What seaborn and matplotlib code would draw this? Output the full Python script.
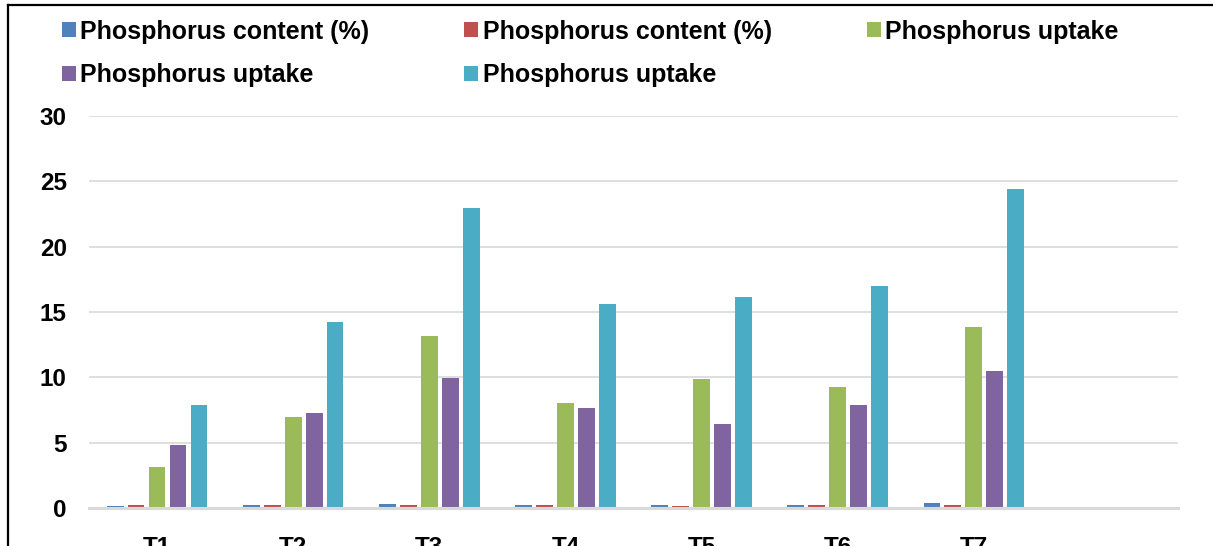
import matplotlib
matplotlib.use('Agg')
import matplotlib.pyplot as plt
from matplotlib.lines import Line2D
import pandas as pd
import seaborn as sns

# Data
treatments = ['T1', 'T2', 'T3', 'T4', 'T5', 'T6', 'T7']
series_labels = ['Phosphorus content (%)', 'Phosphorus content (%)',
                 'Phosphorus uptake', 'Phosphorus uptake', 'Phosphorus uptake']
p_content_a = [0.12, 0.2, 0.3, 0.25, 0.25, 0.25, 0.35]
p_content_b = [0.2, 0.2, 0.2, 0.2, 0.15, 0.2, 0.2]
p_uptake_a = [3.15, 7.0, 13.15, 8.05, 9.85, 9.25, 13.85]
p_uptake_b = [4.8, 7.25, 9.95, 7.65, 6.45, 7.9, 10.5]
p_uptake_c = [7.85, 14.2, 22.95, 15.6, 16.15, 17.0, 24.4]
colors = ['#4F81BD', '#C0504D', '#9BBB59', '#8064A2', '#4BACC6']


def build_frame():
    keys = ['s1', 's2', 's3', 's4', 's5']
    values = [p_content_a, p_content_b, p_uptake_a, p_uptake_b, p_uptake_c]
    rows = []
    for key, vals in zip(keys, values):
        for t, v in zip(treatments, vals):
            rows.append({'Treatment': t, 'Series': key, 'Value': v})
    return pd.DataFrame(rows), keys


def main():
    plt.rcParams['font.family'] = ['Liberation Sans', 'DejaVu Sans']
    plt.rcParams['font.weight'] = 'bold'

    df, keys = build_frame()

    fig = plt.figure(figsize=(12.13, 5.46), dpi=100)
    ax = fig.add_axes([89 / 1213, 38 / 546, 1089 / 1213, 392 / 546])

    sns.barplot(data=df, x='Treatment', y='Value', hue='Series',
                order=treatments + [''], hue_order=keys,
                palette=colors, width=0.77, gap=0.2, ax=ax,
                errorbar=None, saturation=1)

    handles, _ = ax.get_legend_handles_labels()
    ax.get_legend().remove()

    ax.set_ylim(0, 30)
    ax.set_yticks(range(0, 31, 5))
    ax.set_xlabel('')
    ax.set_ylabel('')
    ax.set_axisbelow(True)
    ax.yaxis.grid(True, color='#D9D9D9', linewidth=1.2)
    ax.xaxis.grid(False)
    for s in ['top', 'right', 'left']:
        ax.spines[s].set_visible(False)
    ax.spines['bottom'].set_color('#D9D9D9')
    ax.spines['bottom'].set_linewidth(2.2)
    ax.tick_params(axis='y', length=0, pad=16, labelsize=17.5)
    ax.tick_params(axis='x', length=0, pad=20, labelsize=17.5)
    for lab in ax.get_xticklabels() + ax.get_yticklabels():
        lab.set_fontweight('bold')

    # Reorder so rows read left to right
    order = [0, 3, 1, 4, 2]
    fig.legend([handles[i] for i in order], [series_labels[i] for i in order],
               loc='upper left', bbox_to_anchor=(62 / 1213, 0.964), ncol=3,
               frameon=False, fontsize=18, handlelength=0.55, handleheight=0.55,
               handletextpad=0.18, columnspacing=3.8, labelspacing=0.78,
               borderpad=0, borderaxespad=0)

    # Outer frame (partially visible)
    fig.add_artist(Line2D([8 / 1213, 8 / 1213], [0, 1 - 5 / 546], color='black', lw=1.6))
    fig.add_artist(Line2D([8 / 1213, 1], [1 - 5 / 546, 1 - 5 / 546], color='black', lw=1.6))

    plt.savefig('out.png', dpi=100)


if __name__ == '__main__':
    main()
